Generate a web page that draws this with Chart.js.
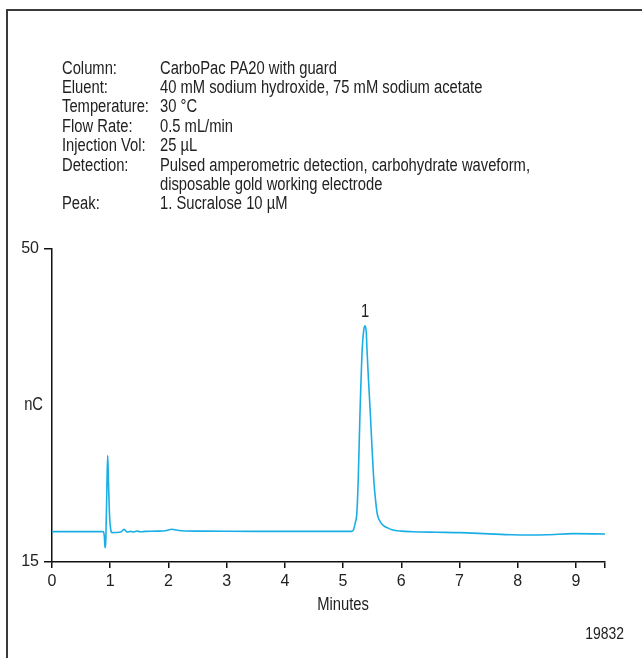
<!DOCTYPE html>
<html lang="en">
<head>
  <meta charset="UTF-8">
  <title>Sucralose chromatogram</title>
  <script src="https://cdn.jsdelivr.net/npm/chart.js"></script>
  <style>
    body { margin: 0; background: #fff; }
    canvas { display: block; }
  </style>
</head>
<body>
  <canvas id="chrom" width="642" height="658"></canvas>

  <script>
    // retention time (min) and detector response (nC)
    const minutes = [
      0.00, 0.50, 0.88, 0.90, 0.91, 0.925, 0.945, 0.957, 0.97, 0.99,
      1.01, 1.03, 1.10, 1.18, 1.24, 1.29, 1.35, 1.40, 1.46, 1.52,
      1.60, 1.80, 1.95, 2.06, 2.15, 2.30, 2.60, 3.00, 3.50, 4.00,
      4.50, 5.00, 5.15, 5.18, 5.21, 5.235, 5.26, 5.29, 5.33, 5.355,
      5.378, 5.40, 5.41, 5.44, 5.47, 5.50, 5.53, 5.56, 5.59, 5.64,
      5.69, 5.77, 5.84, 6.00, 6.20, 6.60, 7.00, 7.50, 7.90, 8.20,
      8.50, 8.95, 9.50
    ];
    const charge = [
      18.40, 18.40, 18.40, 17.8, 16.6, 17.6, 24.0, 26.9, 24.0, 20.0,
      18.6, 18.28, 18.30, 18.35, 18.65, 18.35, 18.42, 18.35, 18.47, 18.38,
      18.42, 18.45, 18.50, 18.66, 18.55, 18.47, 18.45, 18.44, 18.43, 18.42,
      18.42, 18.42, 18.42, 18.6, 19.4, 20.3, 24.0, 31.4, 38.9, 40.9,
      41.4, 40.6, 38.9, 35.0, 31.4, 27.5, 24.0, 21.8, 20.3, 19.5,
      19.1, 18.8, 18.6, 18.45, 18.39, 18.33, 18.28, 18.15, 18.05, 18.02,
      18.04, 18.17, 18.13
    ];

    const xTicks = [0, 1, 2, 3, 4, 5, 6, 7, 8, 9, 9.5];
    const yTicks = [15, 50];

    const peakNames = ['1'];
    const peakTimes = [5.378];
    const peakHeights = [41.4];

    const conditionLabels = ['Column:', 'Eluent:', 'Temperature:', 'Flow Rate:',
      'Injection Vol:', 'Detection:', '', 'Peak:'];
    const conditionValues = ['CarboPac PA20 with guard',
      '40 mM sodium hydroxide, 75 mM sodium acetate',
      '30 °C', '0.5 mL/min', '25 µL',
      'Pulsed amperometric detection, carbohydrate waveform,',
      'disposable gold working electrode',
      '1. Sucralose 10 µM'];

    const FONT = "'Liberation Sans', Arial, sans-serif";
    Chart.defaults.font.family = FONT;
    Chart.defaults.color = '#222';

    // narrow lettering: squeeze the glyphs horizontally
    function narrowText(ctx, text, x, y, align) {
      ctx.save();
      ctx.translate(x, y);
      ctx.scale(0.82, 1);
      ctx.textAlign = align;
      ctx.fillText(text, 0, 0);
      ctx.restore();
    }

    // frame, condition block, peak numbers and axis captions
    const annotations = {
      id: 'annotations',
      afterDraw(chart) {
        const ctx = chart.ctx;
        const xs = chart.scales.x, ys = chart.scales.y;
        ctx.save();

        ctx.strokeStyle = '#3a3a3a';
        ctx.lineWidth = 2;
        ctx.beginPath();
        ctx.moveTo(7, 658);
        ctx.lineTo(7, 10);
        ctx.lineTo(642, 10);
        ctx.stroke();

        ctx.fillStyle = '#222';
        ctx.font = '18px ' + FONT;
        ctx.textBaseline = 'alphabetic';
        conditionLabels.forEach((t, i) => {
          const y = 73.5 + i * 19.4;
          narrowText(ctx, t, 62, y, 'left');
          narrowText(ctx, conditionValues[i], 160, y, 'left');
        });

        peakNames.forEach((n, i) => {
          narrowText(ctx, n, xs.getPixelForValue(peakTimes[i]), ys.getPixelForValue(peakHeights[i]) - 9, 'center');
        });

        narrowText(ctx, 'Minutes', xs.getPixelForValue(5), 610, 'center');
        narrowText(ctx, 'nC', 43, 410, 'right');

        ctx.font = '17px ' + FONT;
        narrowText(ctx, '19832', 624, 639, 'right');
        ctx.restore();
      }
    };

    new Chart(document.getElementById('chrom'), {
      type: 'line',
      data: {
        datasets: [{
          data: minutes.map((m, i) => ({ x: m, y: charge[i] })),
          borderColor: '#1aaee5',
          borderWidth: 1.6,
          pointRadius: 0,
          cubicInterpolationMode: 'monotone',
          fill: false
        }]
      },
      options: {
        responsive: false,
        animation: false,
        devicePixelRatio: 1,
        layout: { padding: { top: 249, right: 37, bottom: 66, left: 0 } },
        plugins: { legend: { display: false }, tooltip: { enabled: false } },
        scales: {
          x: {
            type: 'linear',
            min: 0,
            max: 9.5,
            afterBuildTicks: s => { s.ticks = xTicks.map(v => ({ value: v })); },
            afterFit: s => { s.height = 30; },
            ticks: {
              font: { size: 16 },
              color: '#222',
              padding: 4,
              maxRotation: 0,
              callback: v => (v === 9.5 ? '' : v)
            },
            grid: { drawOnChartArea: false, tickLength: 6, color: '#111', lineWidth: 1.5 },
            border: { color: '#111', width: 1.5 }
          },
          y: {
            type: 'linear',
            min: 15,
            max: 50,
            afterBuildTicks: s => { s.ticks = yTicks.map(v => ({ value: v })); },
            afterFit: s => { s.width = 52; },
            ticks: { font: { size: 16 }, color: '#222', padding: 5 },
            grid: { drawOnChartArea: false, tickLength: 8, color: '#111', lineWidth: 1.5 },
            border: { color: '#111', width: 1.5 }
          }
        }
      },
      plugins: [annotations]
    });
  </script>
</body>
</html>
